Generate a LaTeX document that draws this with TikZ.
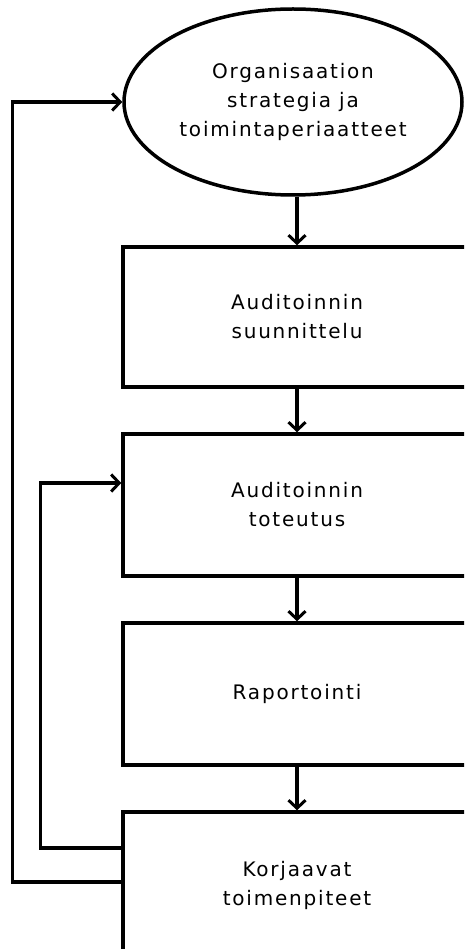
\documentclass[tikz,border=0pt]{standalone}
\usepackage{fontspec}
\setmainfont{DejaVu Sans}
\newfontfamily\labelfont[LetterSpace=9]{DejaVu Sans}
\usetikzlibrary{shapes.geometric,arrows.meta}
\begin{document}
\begin{tikzpicture}[x=1pt,y=1pt,
  every node/.style={align=center,font=\labelfont\fontsize{20}{29}\selectfont,text=black},
  stage/.style={draw,line width=3.5pt,minimum width=348pt,inner sep=0pt},
  goal/.style={draw,ellipse,line width=3.5pt,minimum width=338pt,minimum height=186pt,inner sep=0pt},
  flow/.style={line width=3.5pt,-{Straight Barb[length=8pt,width=17pt,line width=3pt]}},
  loop/.style={flow,rounded corners=0pt}]
\useasboundingbox (0,0) rectangle (464,-949);
\clip (0,0) rectangle (464,-949);

\node[goal] (org) at (293,-102) {Organisaation\\strategia ja\\toimintaperiaatteet};
\node[stage,minimum height=140pt] (plan) at (297,-317) {Auditoinnin\\suunnittelu};
\node[stage,minimum height=142pt] (exec) at (297,-505) {Auditoinnin\\toteutus};
\node[stage,minimum height=142pt] (rep)  at (297,-694) {Raportointi};
\node[stage,minimum height=146pt] (fix)  at (297,-885) {Korjaavat\\toimenpiteet};

\draw[flow] (plan.north |- org.south) -- (plan.north);
\draw[flow] (plan.south) -- (exec.north);
\draw[flow] (exec.south) -- (rep.north);
\draw[flow] (rep.south) -- (fix.north);

\draw[loop] ([yshift=3pt]fix.west) -- ++(-109,0) |- (org.west);
\draw[loop] ([yshift=37pt]fix.west) -- ++(-81,0) |- ([yshift=22pt]exec.west);
\end{tikzpicture}
\end{document}
